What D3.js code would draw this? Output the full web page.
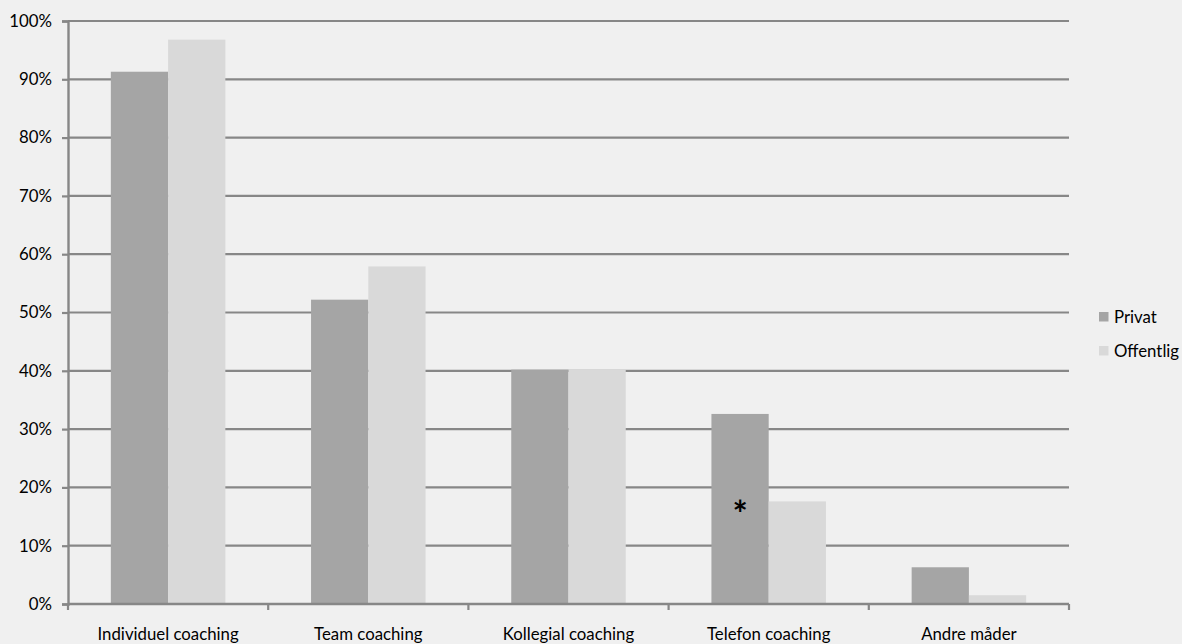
<!DOCTYPE html>
<html>
<head>
<meta charset="utf-8">
<script src="https://cdn.jsdelivr.net/npm/d3@7"></script>
<style>
  html, body { margin: 0; padding: 0; background: #f0f0f0; }
  svg { display: block; }
  text { font-family: Lato, "Open Sans", sans-serif; fill: #000; }
</style>
</head>
<body>
<svg id="chart" width="1182" height="644"></svg>
<script>
// Coaching forms, share of respondents by sector
const categories = ["Individuel coaching", "Team coaching", "Kollegial coaching", "Telefon coaching", "Andre måder"];
const seriesNames = ["Privat", "Offentlig"];
const privat = [0.913, 0.522, 0.402, 0.326, 0.063];
const offentlig = [0.968, 0.579, 0.402, 0.176, 0.015];
const yTicks = [0, 0.1, 0.2, 0.3, 0.4, 0.5, 0.6, 0.7, 0.8, 0.9, 1.0];
const colors = ["#a5a5a5", "#d9d9d9"];
// category carrying the significance mark
const markedCategory = "Telefon coaching";

const svg = d3.select("#chart");
const margin = { left: 68, top: 21, right: 113, bottom: 40 };
const W = 1182, H = 644;
const plotW = W - margin.left - margin.right;
const plotH = H - margin.top - margin.bottom;
const fontSize = "16.8px";

const g = svg.append("g").attr("transform", `translate(${margin.left},${margin.top})`);

const padInner = 0.428;
const x0 = d3.scaleBand().domain(categories).range([0, plotW])
  .paddingInner(padInner).paddingOuter(padInner / 2);
const x1 = d3.scaleBand().domain(seriesNames).range([0, x0.bandwidth()]);
const y = d3.scaleLinear().domain([0, 1]).range([plotH, 0]);

// horizontal gridlines
g.append("g").selectAll("line").data(yTicks.filter(d => d > 0)).join("line")
  .attr("x1", 0).attr("x2", plotW)
  .attr("y1", d => y(d)).attr("y2", d => y(d))
  .attr("stroke", "#878787").attr("stroke-width", 2.2);

// bars
const rows = categories.map((c, i) => ({ cat: c, vals: [privat[i], offentlig[i]] }));
const groups = g.append("g").selectAll("g").data(rows).join("g")
  .attr("transform", d => `translate(${x0(d.cat)},0)`);
groups.selectAll("rect").data(d => d.vals.map((v, j) => ({ key: seriesNames[j], v, j })))
  .join("rect")
  .attr("x", d => x1(d.key))
  .attr("width", x1.bandwidth())
  .attr("y", d => y(d.v))
  .attr("height", d => y(0) - y(d.v))
  .attr("fill", d => colors[d.j]);

// y axis
const yAxis = d3.axisLeft(y).tickValues(yTicks).tickFormat(d3.format(".0%")).tickSize(6).tickPadding(10);
const ya = g.append("g").call(yAxis);
ya.select(".domain").attr("stroke", "#878787").attr("stroke-width", 2.4);
ya.selectAll(".tick line").attr("stroke", "#878787").attr("stroke-width", 2.2);
ya.selectAll(".tick text").attr("font-size", fontSize).attr("font-family", "Lato, sans-serif").attr("fill", "#000");

// x axis with ticks on category boundaries
const step = x0.step();
const bounds = d3.range(categories.length + 1).map(i => i * step);
const xa = g.append("g").attr("transform", `translate(0,${plotH})`);
xa.append("line").attr("x1", 0).attr("x2", plotW).attr("y1", 0).attr("y2", 0)
  .attr("stroke", "#878787").attr("stroke-width", 2.4);
xa.selectAll("line.tk").data(bounds).join("line").attr("class", "tk")
  .attr("x1", d => d).attr("x2", d => d).attr("y1", 0).attr("y2", 6)
  .attr("stroke", "#878787").attr("stroke-width", 2.2);
xa.selectAll("text").data(categories).join("text")
  .attr("x", d => x0(d) + x0.bandwidth() / 2)
  .attr("y", 36)
  .attr("text-anchor", "middle")
  .attr("font-size", fontSize)
  .text(d => d);

// significance asterisk on the Privat bar
const mi = categories.indexOf(markedCategory);
g.append("text")
  .attr("x", x0(markedCategory) + x1("Privat") + x1.bandwidth() / 2)
  .attr("y", y(privat[mi] / 2) + 18)
  .attr("text-anchor", "middle")
  .attr("font-size", "36px")
  .attr("font-weight", "bold")
  .attr("font-family", "DejaVu Sans, sans-serif")
  .text("*");

// legend
const legend = svg.append("g").attr("transform", "translate(1099,312)");
seriesNames.forEach((s, i) => {
  const row = legend.append("g").attr("transform", `translate(0,${i * 34})`);
  row.append("rect").attr("width", 9.5).attr("height", 9.5).attr("fill", colors[i]);
  row.append("text").attr("x", 15).attr("y", 4.8).attr("dy", "0.35em")
    .attr("font-size", fontSize).text(s);
});
</script>
</body>
</html>
